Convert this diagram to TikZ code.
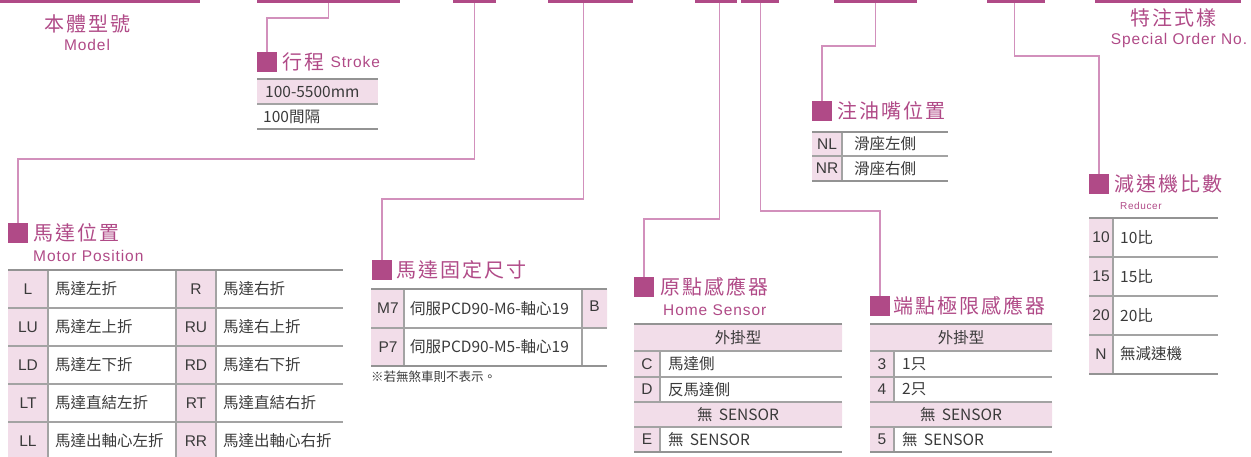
\documentclass[tikz,border=0pt]{standalone}
\usepackage{fontspec}
\setmainfont{Noto Sans CJK TC}
\newfontfamily\titlefont[LetterSpace=10]{Noto Sans CJK TC}
\newfontfamily\subfont[LetterSpace=6]{Liberation Sans}
\newfontfamily\keyfont{Liberation Sans}
\usetikzlibrary{positioning}

\definecolor{brand}{HTML}{B04A87}
\definecolor{linkpink}{HTML}{D290BC}
\definecolor{cellpink}{HTML}{F2DDE9}
\definecolor{rulegray}{HTML}{939393}
\definecolor{textgray}{HTML}{3A3A3A}

\tikzset{
  bar/.style={fill=brand, inner sep=0pt, minimum height=2.5pt, anchor=north west},
  link/.style={draw=linkpink, line width=1.3pt},
  marker/.style={fill=brand, inner sep=0pt, minimum size=19.5pt, anchor=north west},
  heading/.style={text=brand, font=\titlefont\fontsize{20}{20}\selectfont, inner sep=0pt},
  sub/.style={text=brand, font=\subfont\fontsize{15.5}{15.5}\selectfont, inner sep=0pt},
  cell/.style={text=textgray, font=\fontsize{15.5}{15.5}\selectfont, inner sep=0pt},
  keytext/.style={text=textgray, font=\keyfont\fontsize{15.5}{15.5}\selectfont, inner sep=0pt},
  edgerule/.style={draw=rulegray, line width=2.2pt},
  gridrule/.style={draw=rulegray!85, line width=1.1pt}
}

\begin{document}
\begin{tikzpicture}[x=1pt, y=-1pt]
\useasboundingbox (0,0) rectangle (1251,456);

% Top bars of the order code
\node[bar, minimum width=200pt] (barModel) at (0,0) {};
\node[bar, minimum width=143pt] (barStroke) at (257,0) {};
\node[bar, minimum width=43pt] (barMotor) at (453,0) {};
\node[bar, minimum width=85pt] (barMount) at (548,0) {};
\node[bar, minimum width=42pt] (barHome) at (695,0) {};
\node[bar, minimum width=38pt] (barEnd) at (741,0) {};
\node[bar, minimum width=83pt] (barGrease) at (834,0) {};
\node[bar, minimum width=58pt] (barReducer) at (987,0) {};
\node[bar, minimum width=146pt] (barSpecial) at (1095,0) {};

% Square markers
\node[marker] (mkStroke) at (257,52) {};
\node[marker] (mkMotor) at (8,223) {};
\node[marker] (mkMount) at (372,260) {};
\node[marker] (mkHome) at (634,277) {};
\node[marker] (mkEnd) at (870,296) {};
\node[marker] (mkGrease) at (812,101) {};
\node[marker] (mkReducer) at (1089,174) {};

% Headings
\node[heading] (hdModel) at (87,24) {本體型號};
\node[sub] (sbModel) at (87,45) {Model};
\node[heading] (hdSpecial) at (1173,18) {特注式樣};
\node[sub] (sbSpecial) at (1179,40) {Special Order No.};
\node[heading, right=5pt of mkStroke] (hdStroke) {行程};
\node[sub, right=6pt of hdStroke] (sbStroke) {Stroke};
\node[heading, right=5pt of mkMotor] (hdMotor) {馬達位置};
\node[sub, anchor=west] (sbMotor) at (33,256) {Motor Position};
\node[heading, right=4pt of mkMount] (hdMount) {馬達固定尺寸};
\node[heading, right=6pt of mkHome] (hdHome) {原點感應器};
\node[sub, anchor=west] (sbHome) at (663,310) {Home Sensor};
\node[heading, right=3pt of mkEnd] (hdEnd) {端點極限感應器};
\node[heading, right=5pt of mkGrease] (hdGrease) {注油嘴位置};
\node[heading, right=5pt of mkReducer] (hdReducer) {減速機比數};
\node[sub, anchor=west, font=\subfont\fontsize{10}{10}\selectfont] (sbReducer) at (1120,206) {Reducer};

% Connectors from the bars down to the markers
\draw[link] (barStroke.south) -- ++(0,15) -| (mkStroke.north);
\draw[link] (barMotor.south) -- ++(0,156) -| (mkMotor.north);
\draw[link] ([xshift=-7pt]barMount.south) -- ++(0,196) -| (mkMount.north);
\draw[link] ([xshift=3pt]barHome.south) -- ++(0,216) -| (mkHome.north);
\draw[link] (barEnd.south) -- ++(0,208) -| (mkEnd.north);
\draw[link] (barGrease.south) -- ++(0,43) -| (mkGrease.north);
\draw[link] ([xshift=-2pt]barReducer.south) -- ++(0,53) -| (mkReducer.north);

% Stroke table
\fill[cellpink] (257,79) rectangle (378,104);
\draw[gridrule] (257,104) -- (378,104);
\draw[edgerule] (257,79) -- (378,79) (257,129) -- (378,129);
\node[cell, anchor=west] (stA) at (265,91.5) {100-5500mm};
\node[cell, anchor=west] (stB) at (263,116.5) {100間隔};

% Motor position table
\fill[cellpink] (8,270) rectangle (48,460) (176,270) rectangle (216,460);
\foreach \y in {308,346,384,422} \draw[gridrule] (8,\y) -- (343,\y);
\foreach \x in {48,176,216} \draw[gridrule] (\x,270) -- (\x,460);
\draw[edgerule] (8,270) -- (343,270);
\foreach \kl/\dl/\kr/\dr [count=\i] in {L/馬達左折/R/馬達右折, LU/馬達左上折/RU/馬達右上折, LD/馬達左下折/RD/馬達右下折, LT/馬達直結左折/RT/馬達直結右折, LL/馬達出軸心左折/RR/馬達出軸心右折} {
  \node[keytext] (mpKL\i) at (28,251+38*\i) {\kl};
  \node[cell, anchor=west] (mpDL\i) at (55,251+38*\i) {\dl};
  \node[keytext] (mpKR\i) at (196,251+38*\i) {\kr};
  \node[cell, anchor=west] (mpDR\i) at (223,251+38*\i) {\dr};
}

% Motor mount table
\fill[cellpink] (371,289) rectangle (404,366) (582,289) rectangle (607,328);
\draw[gridrule] (371,328) -- (607,328);
\foreach \x in {404,582} \draw[gridrule] (\x,289) -- (\x,366);
\draw[edgerule] (371,289) -- (607,289) (371,366) -- (607,366);
\foreach \k/\d [count=\i] in {M7/伺服PCD90-M6-軸心19, P7/伺服PCD90-M5-軸心19} {
  \node[keytext] (msK\i) at (388,270+38.5*\i) {\k};
  \node[cell, anchor=west] (msD\i) at (410,270+38.5*\i) {\d};
}
\node[keytext] (msB) at (594.5,306) {B};
\node[cell, anchor=west, font=\fontsize{12.5}{12.5}\selectfont] (msNote) at (371,377) {※若無煞車則不表示。};

% Home sensor and end limit sensor tables
\foreach \xa/\xb/\xk/\ka/\da/\kb/\db/\kc [count=\t] in {634/842/660/C/馬達側/D/反馬達側/E, 870/1052/894/3/1只/4/2只/5} {
  \fill[cellpink] (\xa,324) rectangle (\xb,351) (\xa,402) rectangle (\xb,427)
    (\xa,351) rectangle (\xk,402) (\xa,427) rectangle (\xk,452);
  \foreach \y in {351,377,402,427} \draw[gridrule] (\xa,\y) -- (\xb,\y);
  \draw[gridrule] (\xk,351) -- (\xk,402) (\xk,427) -- (\xk,452);
  \draw[edgerule] (\xa,324) -- (\xb,324) (\xa,452) -- (\xb,452);
  \node[cell] (snHeadA\t) at ({(\xa+\xb)/2},337.5) {外掛型};
  \node[keytext] (snKA\t) at ({(\xa+\xk)/2},364) {\ka};
  \node[cell, anchor=west] (snDA\t) at (\xk+8,364) {\da};
  \node[keytext] (snKB\t) at ({(\xa+\xk)/2},389.5) {\kb};
  \node[cell, anchor=west] (snDB\t) at (\xk+8,389.5) {\db};
  \node[cell] (snHeadB\t) at ({(\xa+\xb)/2},414.5) {無\hspace{0.4em}SENSOR};
  \node[keytext] (snKC\t) at ({(\xa+\xk)/2},439.5) {\kc};
  \node[cell, anchor=west] (snDC\t) at (\xk+8,439.5) {無\hspace{0.4em}SENSOR};
}

% Grease nipple table
\fill[cellpink] (812,132) rectangle (842,181);
\draw[gridrule] (812,156) -- (948,156) (842,132) -- (842,181);
\draw[edgerule] (812,132) -- (948,132) (812,181) -- (948,181);
\node[keytext] (grK1) at (827,144) {NL};
\node[cell, anchor=west] (grD1) at (854,144) {滑座左側};
\node[keytext] (grK2) at (827,168.5) {NR};
\node[cell, anchor=west] (grD2) at (854,168.5) {滑座右側};

% Reducer ratio table
\fill[cellpink] (1089,218) rectangle (1113,374);
\foreach \y in {257,296,335} \draw[gridrule] (1089,\y) -- (1218,\y);
\draw[gridrule] (1113,218) -- (1113,374);
\draw[edgerule] (1089,218) -- (1218,218) (1089,374) -- (1218,374);
\foreach \k/\d [count=\i] in {10/10比, 15/15比, 20/20比, N/無減速機} {
  \node[keytext] (rdK\i) at (1101,198+39*\i) {\k};
  \node[cell, anchor=west] (rdD\i) at (1120,198+39*\i) {\d};
}

\end{tikzpicture}
\end{document}
